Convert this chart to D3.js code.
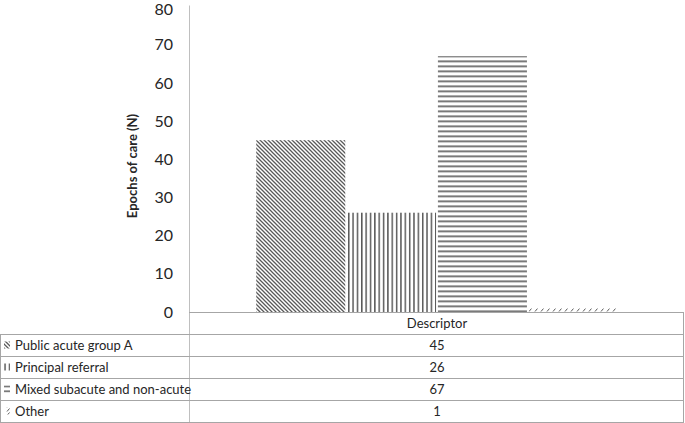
<!DOCTYPE html>
<html>
<head>
<meta charset="utf-8">
<script src="https://cdn.jsdelivr.net/npm/d3@7"></script>
<style>
  body { margin: 0; background: #fff; }
  text { font-family: Lato, "Open Sans", sans-serif; fill: #262626; }
</style>
</head>
<body>
<div id="chart"></div>
<script>
// data
var category = "Descriptor";
var seriesNames = ["Public acute group A", "Principal referral", "Mixed subacute and non-acute", "Other"];
var seriesValues = [45, 26, 67, 1];
var yTicks = [0, 10, 20, 30, 40, 50, 60, 70, 80];
var patternIds = ["pDown", "pVert", "pHoriz", "pDash"];

var svgWidth = 685, svgHeight = 423;
var plotLeft = 189, plotRight = 685, plotTop = 6.5, plotBottom = 312;
var rowH = 22;

var svg = d3.select("#chart").append("svg")
  .attr("width", svgWidth)
  .attr("height", svgHeight);

// hatch patterns
var defs = svg.append("defs");
var ink = "#595959";

var p1 = defs.append("pattern").attr("id", "pDown")
  .attr("patternUnits", "userSpaceOnUse").attr("width", 4).attr("height", 4);
p1.append("path").attr("d", "M-1,-1 L5,5 M-1,3 L1,5 M3,-1 L5,1")
  .attr("stroke", ink).attr("stroke-width", 1.3);

var p2 = defs.append("pattern").attr("id", "pVert")
  .attr("patternUnits", "userSpaceOnUse").attr("width", 4.35).attr("height", 4);
p2.append("rect").attr("x", 0).attr("y", 0).attr("width", 1.5).attr("height", 4).attr("fill", ink);

var p3 = defs.append("pattern").attr("id", "pHoriz")
  .attr("patternUnits", "userSpaceOnUse").attr("width", 4).attr("height", 5)
  .attr("y", 0.5);
p3.append("rect").attr("x", 0).attr("y", 0).attr("width", 4).attr("height", 1.6).attr("fill", ink);

var p4 = defs.append("pattern").attr("id", "pDash")
  .attr("patternUnits", "userSpaceOnUse").attr("width", 6).attr("height", 4);
p4.append("path").attr("d", "M1,3.5 L3.5,0.5")
  .attr("stroke", ink).attr("stroke-width", 1);

// scales
var y = d3.scaleLinear().domain([0, 80]).range([plotBottom, plotTop]);
var x = d3.scaleBand().domain(seriesNames)
  .range([plotLeft, plotRight])
  .paddingInner(0.02)
  .paddingOuter(0.74);

// y axis labels
var yAxis = d3.axisLeft(y).tickValues(yTicks).tickSize(0).tickPadding(0);
svg.append("g")
  .attr("transform", "translate(173,0)")
  .call(yAxis)
  .call(g => g.select(".domain").remove())
  .selectAll("text")
  .style("font-size", "16px")
  .style("font-family", "Lato, 'Open Sans', sans-serif")
  .attr("fill", "#262626")
  .attr("dy", d => d === 80 ? "0.5em" : "0.32em");

// axis line
svg.append("line")
  .attr("x1", plotLeft + 0.5).attr("x2", plotLeft + 0.5)
  .attr("y1", plotTop - 1).attr("y2", plotBottom + rowH * 5)
  .attr("stroke", "#bfbfbf");

svg.append("text")
  .attr("transform", "translate(137,166) rotate(-90)")
  .attr("text-anchor", "middle")
  .style("font-size", "13px")
  .style("font-weight", "bold")
  .text("Epochs of care (N)");

// bars
svg.selectAll("rect.bar")
  .data(seriesValues)
  .enter()
  .append("rect")
  .attr("class", "bar")
  .attr("x", (d, i) => x(seriesNames[i]))
  .attr("width", x.bandwidth())
  .attr("y", d => y(d))
  .attr("height", d => y(0) - y(d))
  .attr("fill", (d, i) => "url(#" + patternIds[i] + ")");

// data table
var tbl = svg.append("g");
var lineCol = "#a6a6a6";
var tableBottom = plotBottom + rowH * 5;

tbl.append("line")
  .attr("x1", plotLeft).attr("x2", plotRight - 1)
  .attr("y1", plotBottom + 0.5).attr("y2", plotBottom + 0.5)
  .attr("stroke", lineCol);
for (var r = 1; r <= 5; r++) {
  tbl.append("line")
    .attr("x1", 0).attr("x2", plotRight - 1)
    .attr("y1", plotBottom + rowH * r + 0.5).attr("y2", plotBottom + rowH * r + 0.5)
    .attr("stroke", lineCol);
}
tbl.append("line")
  .attr("x1", 0.5).attr("x2", 0.5)
  .attr("y1", plotBottom + rowH).attr("y2", tableBottom + 0.5)
  .attr("stroke", lineCol);
tbl.append("line")
  .attr("x1", plotRight - 1.5).attr("x2", plotRight - 1.5)
  .attr("y1", plotBottom).attr("y2", tableBottom + 0.5)
  .attr("stroke", lineCol);

var mid = (plotLeft + plotRight) / 2;
tbl.append("text")
  .attr("x", mid).attr("y", plotBottom + rowH / 2 + 4.5)
  .attr("text-anchor", "middle")
  .style("font-size", "13px")
  .text(category);

seriesNames.forEach(function(name, i) {
  var rowY = plotBottom + rowH * (i + 1);
  tbl.append("rect")
    .attr("x", 4).attr("y", rowY + rowH / 2 - 3.5)
    .attr("width", 6).attr("height", 7)
    .attr("fill", "url(#" + patternIds[i] + ")");
  tbl.append("text")
    .attr("x", 15).attr("y", rowY + rowH / 2 + 4.5)
    .style("font-size", "13px")
    .text(name);
  tbl.append("text")
    .attr("x", mid).attr("y", rowY + rowH / 2 + 4.5)
    .attr("text-anchor", "middle")
    .style("font-size", "13px")
    .text(seriesValues[i]);
});
</script>
</body>
</html>
